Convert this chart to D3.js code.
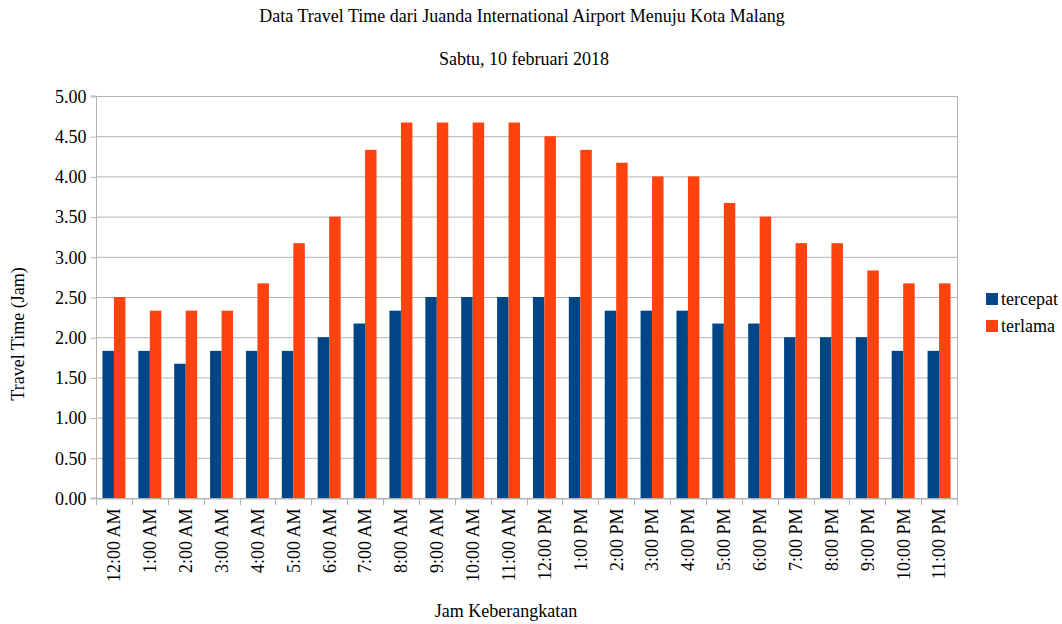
<!DOCTYPE html>
<html>
<head>
<meta charset="utf-8">
<script src="https://cdn.jsdelivr.net/npm/d3@7"></script>
<style>
	body { margin: 0; background: #fff; }
	svg text { font-family: "Liberation Serif", "Times New Roman", serif; fill: #000; }
</style>
</head>
<body>
<svg id="chart" width="1062" height="624"></svg>
<script>
const hours = ['12:00 AM','1:00 AM','2:00 AM','3:00 AM','4:00 AM','5:00 AM','6:00 AM','7:00 AM',
	'8:00 AM','9:00 AM','10:00 AM','11:00 AM','12:00 PM','1:00 PM','2:00 PM','3:00 PM',
	'4:00 PM','5:00 PM','6:00 PM','7:00 PM','8:00 PM','9:00 PM','10:00 PM','11:00 PM'];
const tercepat = [1.83,1.83,1.67,1.83,1.83,1.83,2.00,2.17,2.33,2.50,2.50,2.50,
	2.50,2.50,2.33,2.33,2.33,2.17,2.17,2.00,2.00,2.00,1.83,1.83];
const terlama = [2.50,2.33,2.33,2.33,2.67,3.17,3.50,4.33,4.67,4.67,4.67,4.67,
	4.50,4.33,4.17,4.00,4.00,3.67,3.50,3.17,3.17,2.83,2.67,2.67];
const seriesNames = ['tercepat', 'terlama'];
const yTicks = [0,0.5,1,1.5,2,2.5,3,3.5,4,4.5,5];

const colors = {tercepat: '#004586', terlama: '#ff420e'};
const plot = {x1: 96, x2: 957, y1: 96, y2: 498};
const fs = 18;

const svg = d3.select('#chart');

const x = d3.scaleBand().domain(hours).range([plot.x1, plot.x2]).paddingInner(0.36).paddingOuter(0.18);
const xs = d3.scaleBand().domain(seriesNames).range([0, x.bandwidth()]);
const y = d3.scaleLinear().domain([0, 5]).range([plot.y2, plot.y1]);

// gridlines
svg.append('g')
	.selectAll('line')
	.data(yTicks).enter()
	.append('line')
	.attr('x1', plot.x1).attr('x2', plot.x2)
	.attr('y1', d => y(d) + 0.5).attr('y2', d => y(d) + 0.5)
	.attr('stroke', '#b3b3b3').attr('stroke-width', 1);

svg.append('line')
	.attr('x1', plot.x2 + 0.5).attr('x2', plot.x2 + 0.5)
	.attr('y1', plot.y1).attr('y2', plot.y2)
	.attr('stroke', '#b3b3b3');

// bars
const data = hours.map((h, i) => ({h, tercepat: tercepat[i], terlama: terlama[i]}));
const gBars = svg.append('g')
	.selectAll('g')
	.data(data).enter()
	.append('g')
	.attr('transform', d => 'translate(' + x(d.h) + ',0)');

gBars.selectAll('rect')
	.data(d => seriesNames.map(s => ({s, v: d[s]})))
	.enter()
	.append('rect')
	.attr('x', d => xs(d.s))
	.attr('y', d => y(d.v))
	.attr('width', xs.bandwidth())
	.attr('height', d => y(0) - y(d.v))
	.attr('fill', d => colors[d.s]);

// y axis
const yAxis = d3.axisLeft(y).tickValues(yTicks).tickFormat(d3.format('.2f')).tickSize(6).tickPadding(4);
const gY = svg.append('g')
	.attr('transform', 'translate(' + (plot.x1 + 0.5) + ',0.5)')
	.call(yAxis);
gY.select('.domain').attr('stroke', '#b3b3b3').attr('d', 'M-6,' + (plot.y1 - 0.5) + 'H0V' + (plot.y2 - 0.5) + 'H-6');
gY.selectAll('.tick line').attr('stroke', '#b3b3b3');
gY.selectAll('.tick text').attr('font-size', fs).attr('fill', '#000');

// x axis
const xAxis = d3.axisBottom(x).tickSize(0);
const gX = svg.append('g')
	.attr('transform', 'translate(0,' + (plot.y2 + 0.5) + ')')
	.call(xAxis);
gX.select('.domain').attr('stroke', '#b3b3b3');
gX.selectAll('.tick text')
	.attr('font-size', fs)
	.attr('fill', '#000')
	.attr('transform', 'rotate(-90)')
	.attr('text-anchor', 'end')
	.attr('x', -10)
	.attr('y', 0)
	.attr('dy', '0.35em');

// category separator ticks
svg.append('g')
	.selectAll('line')
	.data(d3.range(hours.length + 1)).enter()
	.append('line')
	.attr('x1', i => Math.round(plot.x1 + i * (plot.x2 - plot.x1) / hours.length) + 0.5)
	.attr('x2', i => Math.round(plot.x1 + i * (plot.x2 - plot.x1) / hours.length) + 0.5)
	.attr('y1', plot.y2).attr('y2', plot.y2 + 7)
	.attr('stroke', '#b3b3b3');

// titles
svg.append('text').attr('x', 522).attr('y', 22).attr('text-anchor', 'middle')
	.attr('font-size', fs).text('Data Travel Time dari Juanda International Airport Menuju Kota Malang');
svg.append('text').attr('x', 524).attr('y', 65).attr('text-anchor', 'middle')
	.attr('font-size', fs).text('Sabtu, 10 februari 2018');
svg.append('text').attr('x', 506).attr('y', 617).attr('text-anchor', 'middle')
	.attr('font-size', fs).text('Jam Keberangkatan');
svg.append('text').attr('transform', 'translate(24,334) rotate(-90)').attr('text-anchor', 'middle')
	.attr('font-size', fs).text('Travel Time (Jam)');

// legend
const legend = svg.append('g').attr('transform', 'translate(986,293)');
seriesNames.forEach((s, i) => {
	const g = legend.append('g').attr('transform', 'translate(0,' + i * 27 + ')');
	g.append('rect').attr('width', 12).attr('height', 12).attr('fill', colors[s]);
	g.append('text').attr('x', 15).attr('y', 12).attr('font-size', fs).text(s);
});
</script>
</body>
</html>
